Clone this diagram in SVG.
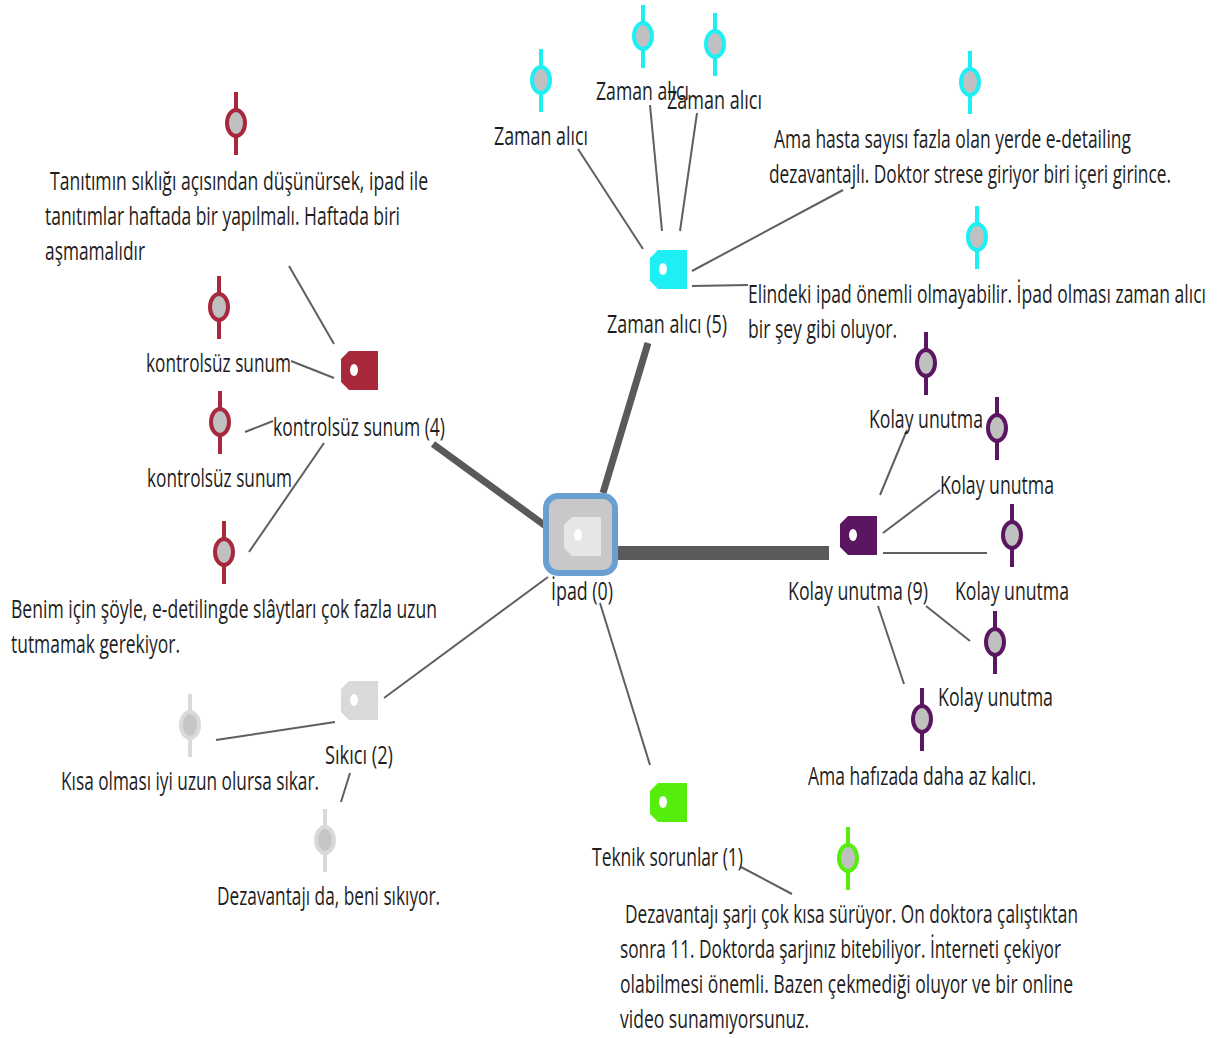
<svg xmlns="http://www.w3.org/2000/svg" xmlns:xlink="http://www.w3.org/1999/xlink" width="1217" height="1038" viewBox="0 0 1217 1038">
<style>
text{font-family:"Open Sans","Liberation Sans",sans-serif;font-size:25px;fill:#1e1e1e}
.thin{stroke:#5f5f5f;stroke-width:2;fill:none}
.thick{stroke:#5a5a5a;fill:none}
.hole{fill:#ffffff}
</style>
<defs>
<path id="tag" d="M8,0H37V39H8L0,31V8Z"/>
<g id="pin" stroke-width="4"><line x1="0" y1="-31" x2="0" y2="32"/><ellipse cx="0" cy="0" rx="9" ry="13"/></g>
</defs>
<rect width="1217" height="1038" fill="#ffffff"/>
<g id="connectors">
<line class="thick" x1="603" y1="493" x2="648" y2="343" stroke-width="7"/>
<line class="thick" x1="558" y1="535" x2="433" y2="444" stroke-width="7"/>
<line class="thick" x1="618" y1="553" x2="829" y2="553" stroke-width="14"/>
<line class="thin" x1="643" y1="249" x2="578" y2="149"/>
<line class="thin" x1="662" y1="231" x2="650" y2="105"/>
<line class="thin" x1="680" y1="231" x2="697" y2="113"/>
<line class="thin" x1="692" y1="271" x2="843" y2="190"/>
<line class="thin" x1="692" y1="286" x2="748" y2="285"/>
<line class="thin" x1="334" y1="344" x2="289" y2="266"/>
<line class="thin" x1="334" y1="378" x2="291" y2="361"/>
<line class="thin" x1="273" y1="421" x2="245" y2="432"/>
<line class="thin" x1="324" y1="443" x2="249" y2="552"/>
<line class="thin" x1="548" y1="577" x2="384" y2="698"/>
<line class="thin" x1="335" y1="722" x2="216" y2="740"/>
<line class="thin" x1="350" y1="773" x2="341" y2="802"/>
<line class="thin" x1="600" y1="603" x2="650" y2="765"/>
<line class="thin" x1="741" y1="867" x2="792" y2="894"/>
<line class="thin" x1="880" y1="495" x2="907" y2="430"/>
<line class="thin" x1="883" y1="533" x2="940" y2="490"/>
<line class="thin" x1="883" y1="553" x2="987" y2="553"/>
<line class="thin" x1="926" y1="606" x2="970" y2="641"/>
<line class="thin" x1="878" y1="606" x2="904" y2="684"/>
</g>
<g id="n-ipad">
<rect x="546" y="496" width="69" height="77" rx="12" fill="#c8c8c8" stroke="#6a9fd2" stroke-width="6"/>
<use xlink:href="#tag" x="564" y="517" fill="#e6e6e6"/>
<ellipse class="hole" cx="578" cy="535" rx="4" ry="6"/>
<text x="551" y="600" textLength="62" lengthAdjust="spacingAndGlyphs">İpad (0)</text>
</g>
<g id="n-zaman">
<use xlink:href="#tag" x="650" y="250" fill="#1eeff5"/>
<ellipse class="hole" cx="663" cy="269" rx="4" ry="6"/>
<text x="607" y="333" textLength="120" lengthAdjust="spacingAndGlyphs">Zaman alıcı (5)</text>
</g>
<g id="n-z1"><use xlink:href="#pin" x="541" y="80" stroke="#1eeff5" fill="#c0c0c0"/><text x="494" y="145" textLength="94" lengthAdjust="spacingAndGlyphs">Zaman alıcı</text></g>
<g id="n-z2"><use xlink:href="#pin" x="643" y="36" stroke="#1eeff5" fill="#c0c0c0"/><text x="596" y="100" textLength="93" lengthAdjust="spacingAndGlyphs">Zaman alıcı</text></g>
<g id="n-z3"><use xlink:href="#pin" x="715" y="44" stroke="#1eeff5" fill="#c0c0c0"/><text x="667" y="109" textLength="95" lengthAdjust="spacingAndGlyphs">Zaman alıcı</text></g>
<g id="n-z4"><use xlink:href="#pin" x="970" y="82" stroke="#1eeff5" fill="#c0c0c0"/>
<text x="774" y="148" textLength="357" lengthAdjust="spacingAndGlyphs">Ama hasta sayısı fazla olan yerde e-detailing</text>
<text x="769" y="183" textLength="402" lengthAdjust="spacingAndGlyphs">dezavantajlı. Doktor strese giriyor biri içeri girince.</text></g>
<g id="n-z5"><use xlink:href="#pin" x="977" y="237" stroke="#1eeff5" fill="#c0c0c0"/>
<text x="748" y="303" textLength="458" lengthAdjust="spacingAndGlyphs">Elindeki ipad önemli olmayabilir. İpad olması zaman alıcı</text>
<text x="748" y="338" textLength="149" lengthAdjust="spacingAndGlyphs">bir şey gibi oluyor.</text></g>
<g id="n-kontrol">
<use xlink:href="#tag" x="341" y="351" fill="#a8283c"/>
<ellipse class="hole" cx="354" cy="370" rx="4" ry="6"/>
<text x="273" y="436" textLength="172" lengthAdjust="spacingAndGlyphs">kontrolsüz sunum (4)</text>
</g>
<g id="n-k1"><use xlink:href="#pin" x="236" y="123" stroke="#a8283c" fill="#c0c0c0"/>
<text x="50" y="190" textLength="378" lengthAdjust="spacingAndGlyphs">Tanıtımın sıklığı açısından düşünürsek, ipad ile</text>
<text x="45" y="225" textLength="355" lengthAdjust="spacingAndGlyphs">tanıtımlar haftada bir yapılmalı. Haftada biri</text>
<text x="45" y="260" textLength="100" lengthAdjust="spacingAndGlyphs">aşmamalıdır</text></g>
<g id="n-k2"><use xlink:href="#pin" x="219" y="307" stroke="#a8283c" fill="#c0c0c0"/><text x="146" y="372" textLength="145" lengthAdjust="spacingAndGlyphs">kontrolsüz sunum</text></g>
<g id="n-k3"><use xlink:href="#pin" x="220" y="422" stroke="#a8283c" fill="#c0c0c0"/><text x="147" y="487" textLength="145" lengthAdjust="spacingAndGlyphs">kontrolsüz sunum</text></g>
<g id="n-k4"><use xlink:href="#pin" x="224" y="552" stroke="#a8283c" fill="#c0c0c0"/>
<text x="11" y="618" textLength="426" lengthAdjust="spacingAndGlyphs">Benim için şöyle, e-detilingde slâytları çok fazla uzun</text>
<text x="11" y="653" textLength="169" lengthAdjust="spacingAndGlyphs">tutmamak gerekiyor.</text></g>
<g id="n-kolay">
<use xlink:href="#tag" x="840" y="516" fill="#5a1660"/>
<ellipse class="hole" cx="853" cy="535" rx="4" ry="6"/>
<text x="788" y="600" textLength="140" lengthAdjust="spacingAndGlyphs">Kolay unutma (9)</text>
</g>
<g id="n-u1"><use xlink:href="#pin" x="926" y="363" stroke="#5a1660" fill="#c0c0c0"/><text x="869" y="428" textLength="114" lengthAdjust="spacingAndGlyphs">Kolay unutma</text></g>
<g id="n-u2"><use xlink:href="#pin" x="997" y="428" stroke="#5a1660" fill="#c0c0c0"/><text x="940" y="494" textLength="114" lengthAdjust="spacingAndGlyphs">Kolay unutma</text></g>
<g id="n-u3"><use xlink:href="#pin" x="1012" y="535" stroke="#5a1660" fill="#c0c0c0"/><text x="955" y="600" textLength="114" lengthAdjust="spacingAndGlyphs">Kolay unutma</text></g>
<g id="n-u4"><use xlink:href="#pin" x="995" y="642" stroke="#5a1660" fill="#c0c0c0"/><text x="938" y="706" textLength="115" lengthAdjust="spacingAndGlyphs">Kolay unutma</text></g>
<g id="n-u5"><use xlink:href="#pin" x="922" y="719" stroke="#5a1660" fill="#c0c0c0"/><text x="808" y="785" textLength="228" lengthAdjust="spacingAndGlyphs">Ama hafızada daha az kalıcı.</text></g>
<g id="n-sikici">
<use xlink:href="#tag" x="341" y="681" fill="#d9d9d9"/>
<ellipse class="hole" cx="354" cy="700" rx="4" ry="6"/>
<text x="325" y="764" textLength="68" lengthAdjust="spacingAndGlyphs">Sıkıcı (2)</text>
</g>
<g id="n-s1"><use xlink:href="#pin" x="190" y="725" stroke="#dadada" fill="#c6c6c6"/><text x="61" y="790" textLength="258" lengthAdjust="spacingAndGlyphs">Kısa olması iyi uzun olursa sıkar.</text></g>
<g id="n-s2"><use xlink:href="#pin" x="325" y="840" stroke="#dadada" fill="#c6c6c6"/><text x="217" y="905" textLength="223" lengthAdjust="spacingAndGlyphs">Dezavantajı da, beni sıkıyor.</text></g>
<g id="n-teknik">
<use xlink:href="#tag" x="650" y="783" fill="#55ee0c"/>
<ellipse class="hole" cx="663" cy="802" rx="4" ry="6"/>
<text x="592" y="866" textLength="151" lengthAdjust="spacingAndGlyphs">Teknik sorunlar (1)</text>
</g>
<g id="n-t1"><use xlink:href="#pin" x="848" y="858" stroke="#55ee0c" fill="#c0c0c0"/>
<text x="625" y="923" textLength="453" lengthAdjust="spacingAndGlyphs">Dezavantajı şarjı çok kısa sürüyor. On doktora çalıştıktan</text>
<text x="620" y="958" textLength="441" lengthAdjust="spacingAndGlyphs">sonra 11. Doktorda şarjınız bitebiliyor. İnterneti çekiyor</text>
<text x="620" y="993" textLength="453" lengthAdjust="spacingAndGlyphs">olabilmesi önemli. Bazen çekmediği oluyor ve bir online</text>
<text x="620" y="1028" textLength="189" lengthAdjust="spacingAndGlyphs">video sunamıyorsunuz.</text></g>
</svg>
